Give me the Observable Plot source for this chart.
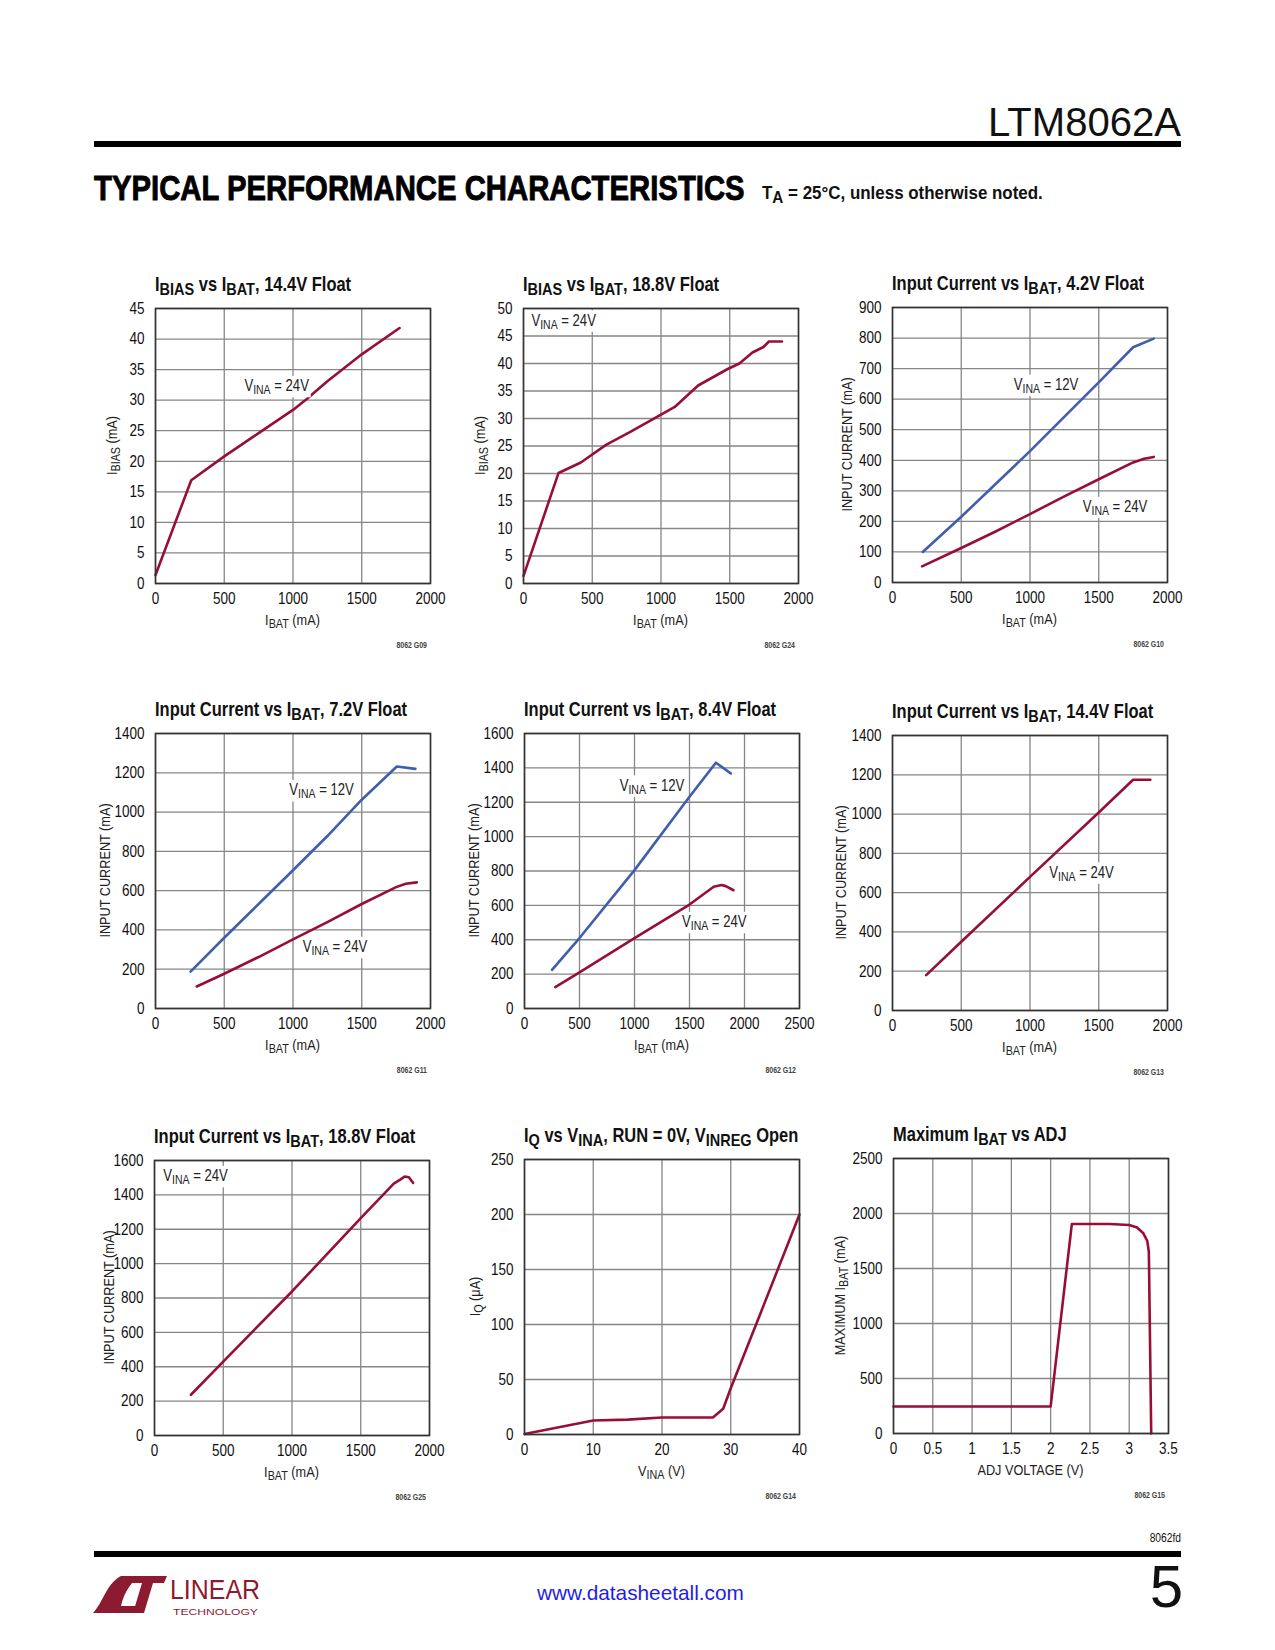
<!DOCTYPE html>
<html><head><meta charset="utf-8">
<script src="https://cdn.jsdelivr.net/npm/d3@7"></script>
<script src="https://cdn.jsdelivr.net/npm/@observablehq/plot@0.6"></script>
<style>
html,body{margin:0;padding:0;background:#fff;}
#page{position:relative;width:1275px;height:1650px;overflow:hidden;background:#fff;}
#page svg.plot{position:absolute;}
#overlay{position:absolute;left:0;top:0;}
#overlay text{white-space:pre;}
</style></head><body><div id="page"></div>
<script>
// ---------- tick labels ----------
const ticksI2000 = [0, 500, 1000, 1500, 2000];
const ticksI2500 = [0, 500, 1000, 1500, 2000, 2500];
const ticksBias45 = [0, 5, 10, 15, 20, 25, 30, 35, 40, 45];
const ticksBias50 = [0, 5, 10, 15, 20, 25, 30, 35, 40, 45, 50];
const ticksIn900 = [0, 100, 200, 300, 400, 500, 600, 700, 800, 900];
const ticksIn1400 = [0, 200, 400, 600, 800, 1000, 1200, 1400];
const ticksIn1600 = [0, 200, 400, 600, 800, 1000, 1200, 1400, 1600];
const ticksVina40 = [0, 10, 20, 30, 40];
const ticksIq250 = [0, 50, 100, 150, 200, 250];
const ticksAdj = [0, 0.5, 1, 1.5, 2, 2.5, 3, 3.5];
const ticksMax2500 = [0, 500, 1000, 1500, 2000, 2500];

// ---------- series (x, y) ----------
const g09_vina24 = [[0,1.4],[260,16.9],[500,20.8],[750,24.6],[1000,28.4],[1100,30.2],[1250,33.1],[1500,37.5],[1775,41.8]];
const g24_vina24 = [[0,1.4],[255,20.1],[417,22],[600,25.2],[780,27.6],[1000,30.7],[1100,32.1],[1270,36],[1485,39],[1570,40],[1665,42],[1745,43],[1785,44],[1880,44]];
const g10_vina12 = [[220,100],[500,215],[1000,430],[1500,655],[1750,770],[1900,798]];
const g10_vina24 = [[215,53],[500,113],[750,167],[1000,224],[1250,282],[1500,338],[1750,393],[1830,405],[1900,411]];
const g11_vina12 = [[255,188],[500,360],[750,532],[1000,704],[1250,878],[1500,1063],[1755,1232],[1890,1220]];
const g11_vina24 = [[300,112],[500,177],[750,262],[1000,352],[1250,440],[1500,532],[1750,618],[1820,635],[1900,642]];
const g12_vina12 = [[250,225],[500,410],[1000,805],[1500,1232],[1740,1430],[1875,1368]];
const g12_vina24 = [[280,125],[500,210],[1000,410],[1500,605],[1720,708],[1790,718],[1830,712],[1900,688]];
const g13_vina24 = [[245,180],[500,350],[1000,680],[1500,1008],[1750,1175],[1875,1175]];
const g25_vina24 = [[265,237],[500,430],[1000,838],[1500,1265],[1650,1390],[1740,1465],[1790,1490],[1820,1507],[1850,1502],[1880,1470]];
const g14_iq = [[0,0.5],[10,12.7],[15,13.5],[20,15.5],[27.4,15.5],[28.9,23.4],[30,42],[34,105],[40,200]];
const g15_maxIbat = [[0,245],[2,245],[2.27,1905],[2.75,1905],[3.0,1895],[3.1,1872],[3.18,1820],[3.23,1750],[3.25,1650],[3.28,0]];

// ---------- texts ----------
const titles = [
  "I_{BIAS} vs I_{BAT}, 14.4V Float",
  "I_{BIAS} vs I_{BAT}, 18.8V Float",
  "Input Current vs I_{BAT}, 4.2V Float",
  "Input Current vs I_{BAT}, 7.2V Float",
  "Input Current vs I_{BAT}, 8.4V Float",
  "Input Current vs I_{BAT}, 14.4V Float",
  "Input Current vs I_{BAT}, 18.8V Float",
  "I_{Q} vs V_{INA}, RUN = 0V, V_{INREG} Open",
  "Maximum I_{BAT} vs ADJ"
];
const yLabels = ["I_{BIAS} (mA)","I_{BIAS} (mA)","INPUT CURRENT (mA)","INPUT CURRENT (mA)","INPUT CURRENT (mA)","INPUT CURRENT (mA)","INPUT CURRENT (mA)","I_{Q} (μA)","MAXIMUM I_{BAT} (mA)"];
const xLabels = ["I_{BAT} (mA)","I_{BAT} (mA)","I_{BAT} (mA)","I_{BAT} (mA)","I_{BAT} (mA)","I_{BAT} (mA)","I_{BAT} (mA)","V_{INA} (V)","ADJ VOLTAGE (V)"];
const codes = ["8062 G09","8062 G24","8062 G10","8062 G11","8062 G12","8062 G13","8062 G25","8062 G14","8062 G15"];
const lbl12 = "V_{INA} = 12V";
const lbl24 = "V_{INA} = 24V";

// ---------- styling ----------
const RED = "#970f37";
const BLUE = "#3f5fae";
const SANS = '"Liberation Sans",Arial,sans-serif';
const NF = 0.82; // Arial Narrow is Arial at 82% width

const charts = [
  {fl:155, ft:308, xDomain:[0,2000], xTicks:ticksI2000, yDomain:[0,45], yTicks:ticksBias45,
   series:[{data:g09_vina24, color:RED}], ylOff:38, notes:[{t:lbl24, x:650, y:31.4}]},
  {fl:523, ft:308, xDomain:[0,2000], xTicks:ticksI2000, yDomain:[0,50], yTicks:ticksBias50,
   series:[{data:g24_vina24, color:RED}], ylOff:38, notes:[{t:lbl24, x:61, y:46.8}]},
  {fl:892, ft:307, xDomain:[0,2000], xTicks:ticksI2000, yDomain:[0,900], yTicks:ticksIn900,
   series:[{data:g10_vina12, color:BLUE},{data:g10_vina24, color:RED}], ylOff:40,
   notes:[{t:lbl12, x:886, y:629},{t:lbl24, x:1387, y:229}]},
  {fl:155, ft:733, xDomain:[0,2000], xTicks:ticksI2000, yDomain:[0,1400], yTicks:ticksIn1400,
   series:[{data:g11_vina12, color:BLUE},{data:g11_vina24, color:RED}], ylOff:45,
   notes:[{t:lbl12, x:977, y:1083},{t:lbl24, x:1074, y:285}]},
  {fl:524, ft:733, xDomain:[0,2500], xTicks:ticksI2500, yDomain:[0,1600], yTicks:ticksIn1600,
   series:[{data:g12_vina12, color:BLUE},{data:g12_vina24, color:RED}], ylOff:45,
   notes:[{t:lbl12, x:870, y:1265},{t:lbl24, x:1436, y:471}]},
  {fl:892, ft:735, xDomain:[0,2000], xTicks:ticksI2000, yDomain:[0,1400], yTicks:ticksIn1400,
   series:[{data:g13_vina24, color:RED}], ylOff:46, notes:[{t:lbl24, x:1144, y:674}]},
  {fl:154, ft:1160, xDomain:[0,2000], xTicks:ticksI2000, yDomain:[0,1600], yTicks:ticksIn1600,
   series:[{data:g25_vina24, color:RED}], ylOff:40, notes:[{t:lbl24, x:68, y:1477}]},
  {fl:524, ft:1159, xDomain:[0,40], xTicks:ticksVina40, yDomain:[0,250], yTicks:ticksIq250,
   series:[{data:g14_iq, color:RED}], ylOff:44, notes:[]},
  {fl:893, ft:1158, xDomain:[0,3.5], xTicks:ticksAdj, yDomain:[0,2500], yTicks:ticksMax2500,
   series:[{data:g15_maxIbat, color:RED}], ylOff:48, notes:[]}
];

// ---------- helpers ----------
const NS = "http://www.w3.org/2000/svg";
const page = document.getElementById("page");
function el(tag, attrs, parent) {
  const e = document.createElementNS(NS, tag);
  for (const k in attrs) e.setAttribute(k, attrs[k]);
  if (parent) parent.appendChild(e);
  return e;
}
// text with optional subscripts (_{...}); placed at (x,y) and horizontally condensed by f
function rich(parent, str, x, y, f, attrs, subScale, drop, rotate) {
  const tr = `translate(${x},${y})` + (rotate ? ` rotate(${rotate})` : "") + ` scale(${f},1)`;
  const t = el("text", Object.assign({x: 0, y: 0, transform: tr}, attrs), parent);
  const fs = parseFloat(attrs["font-size"]);
  const parts = str.split(/(_\{[^}]*\})/).filter(s => s.length);
  let shifted = false;
  for (const p of parts) {
    const m = p.match(/^_\{(.*)\}$/);
    const ts = el("tspan", {}, t);
    if (m) {
      ts.textContent = m[1];
      ts.setAttribute("font-size", (fs * subScale) + "px");
      ts.setAttribute("dy", shifted ? 0 : drop);
      shifted = true;
    } else {
      ts.textContent = p;
      if (shifted) { ts.setAttribute("dy", -drop); shifted = false; }
    }
  }
  return t;
}
// same, but squeezed/stretched horizontally to an exact width
function richFit(parent, str, x, y, width, attrs, subScale, drop) {
  const t = rich(parent, str, x, y, 1, attrs, subScale, drop);
  const L = t.getComputedTextLength();
  if (L > 0) t.setAttribute("transform", `translate(${x},${y}) scale(${width / L},1)`);
  return t;
}

const overlay = el("svg", {id:"overlay", width:1275, height:1650});
page.appendChild(overlay);

// ---------- charts ----------
const ML = 62, MR = 28, MT = 14, MB = 32, S = 275;
charts.forEach((c, i) => {
  const marks = [
    Plot.gridX(c.xTicks, {stroke:"#868686", strokeOpacity:1, strokeWidth:1.3}),
    Plot.gridY(c.yTicks, {stroke:"#868686", strokeOpacity:1, strokeWidth:1.3}),
    ...c.series.map(s => Plot.line(s.data, {x: d => d[0], y: d => d[1], stroke: s.color, strokeWidth: 2.6, strokeLinejoin: "round"})),
    Plot.frame({stroke:"#333", strokeWidth:1.6}),
    Plot.axisX(c.xTicks, {tickSize:0, tickPadding:9, label:null, tickFormat: d => String(d)}),
    Plot.axisY(c.yTicks, {tickSize:0, tickPadding:11, label:null, tickFormat: d => String(d)})
  ];
  const svg = Plot.plot({
    width: ML + S + MR, height: MT + S + MB,
    marginLeft: ML, marginRight: MR, marginTop: MT, marginBottom: MB,
    x: {domain: c.xDomain}, y: {domain: c.yDomain},
    style: {fontFamily: SANS, fontSize: "16.5px", color: "#111", background: "transparent", overflow: "visible"},
    marks
  });
  svg.classList.add("plot");
  const ox = c.fl - ML, oy = c.ft - MT;
  svg.style.left = ox + "px";
  svg.style.top = oy + "px";
  page.insertBefore(svg, overlay);
  // condense tick labels around their anchor
  svg.querySelectorAll("text").forEach(t => {
    const x = parseFloat(t.getAttribute("x") || 0);
    const tr = t.getAttribute("transform") || "";
    t.setAttribute("transform", `${tr} translate(${x},0) scale(${NF},1) translate(${-x},0)`);
  });
  const sx = svg.scale("x"), sy = svg.scale("y");

  // title
  rich(overlay, titles[i], c.fl, c.ft - 17, 0.845, {"font-family": SANS, "font-weight": "bold", "font-size": "19.5px", fill: "#111"}, 0.88, 4);
  // x label
  rich(overlay, xLabels[i], c.fl + S / 2, c.ft + S + 42, NF, {"text-anchor": "middle", "font-family": SANS, "font-size": "15.5px", fill: "#222"}, 0.85, 3);
  // y label
  rich(overlay, yLabels[i], c.fl - c.ylOff, c.ft + S / 2, NF, {"text-anchor": "middle", "font-family": SANS, "font-size": "15.5px", fill: "#222"}, 0.85, 3, -90);
  // code
  rich(overlay, codes[i], c.fl + S - 3, c.ft + S + 65, NF, {"text-anchor": "end", "font-family": SANS, "font-weight": "bold", "font-size": "8.5px", fill: "#444"}, 1, 0);
  // annotations positioned through the chart scales, on a white box
  c.notes.forEach(n => {
    const g = el("g", {transform: `translate(${ox + sx.apply(n.x)},${oy + sy.apply(n.y)}) scale(${NF},1)`}, overlay);
    const t = rich(g, n.t, 0, 0, 1, {"font-family": SANS, "font-size": "16px", fill: "#222"}, 0.8, 3);
    const b = t.getBBox();
    const r = el("rect", {x: b.x - 2, y: b.y - 1, width: b.width + 4, height: b.height + 2, fill: "#fff"});
    g.insertBefore(r, t);
  });
});

// ---------- page header / footer ----------
const ltm = rich(overlay, "LTM8062A", 1181, 136, 1, {"text-anchor": "end", "font-family": SANS, "font-size": "40px", fill: "#111"}, 1, 0);
ltm.setAttribute("transform", `translate(1181,136) scale(${193 / ltm.getComputedTextLength()},1)`);
el("rect", {x: 94, y: 141, width: 1087, height: 6, fill: "#000"}, overlay);
richFit(overlay, "TYPICAL PERFORMANCE CHARACTERISTICS", 94, 200, 651, {"font-family": SANS, "font-weight": "900", "font-size": "36px", fill: "#000", stroke: "#000", "stroke-width": 0.9}, 1, 0);
richFit(overlay, "T_{A} = 25°C, unless otherwise noted.", 762, 199, 281, {"font-family": SANS, "font-weight": "bold", "font-size": "18px", fill: "#111"}, 0.9, 4);

rich(overlay, "8062fd", 1181, 1542, NF, {"text-anchor": "end", "font-family": SANS, "font-size": "12.5px", fill: "#111"}, 1, 0);
el("rect", {x: 94, y: 1551, width: 1087, height: 6, fill: "#000"}, overlay);
richFit(overlay, "www.datasheetall.com", 537, 1600, 207, {"font-family": SANS, "font-size": "21px", fill: "#1e1ee6"}, 1, 0);
el("text", {x: 1183, y: 1607, "text-anchor": "end", "font-family": SANS, "font-weight": "300", "font-size": "60px", fill: "#111"}, overlay).textContent = "5";

// logo
const LOGO = "#8c1a30";
el("path", {d: "M93,1613 C103,1603 106,1584 121,1576 L140,1576 C128,1584 123,1597 121,1606 L141,1606 L137,1613 Z", fill: LOGO}, overlay);
el("path", {d: "M131,1576 L167,1576 L164,1583 L153,1583 L144,1613 L133,1613 L142,1583 L129,1583 Z", fill: LOGO}, overlay);
richFit(overlay, "LINEAR", 170, 1599, 90, {"font-family": SANS, "font-size": "28px", fill: LOGO}, 1, 0);
richFit(overlay, "TECHNOLOGY", 173, 1615, 85, {"font-family": SANS, "font-size": "9.5px", fill: LOGO}, 1, 0);
</script>
</body></html>
